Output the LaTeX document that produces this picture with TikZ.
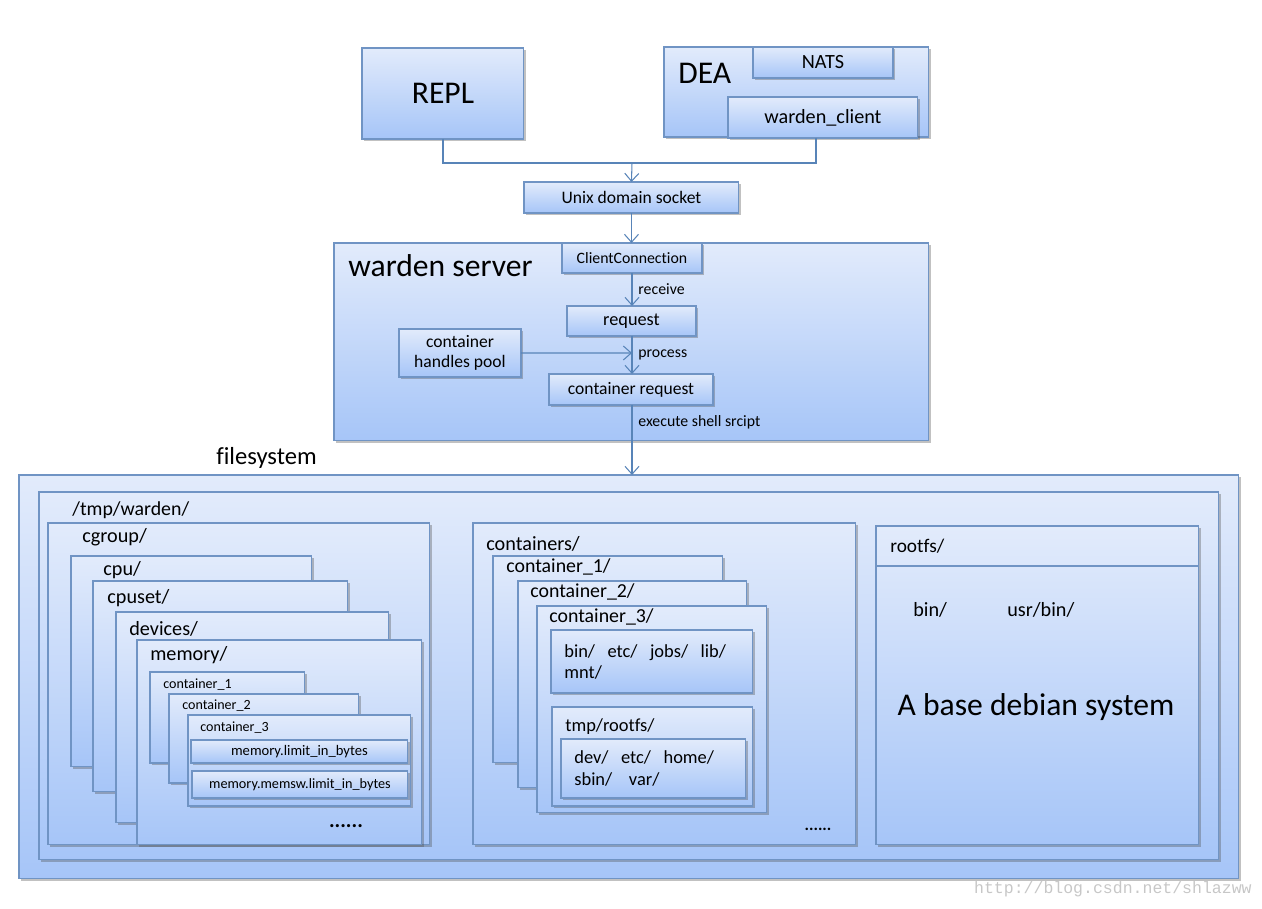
\documentclass[tikz,border=0pt]{standalone}
\usepackage{fontspec}
\setmainfont{Carlito}[Ligatures=NoCommon]
\newfontfamily\wmfont{Liberation Mono}
\usetikzlibrary{arrows.meta,shadows}
\definecolor{boxtop}{RGB}{226,235,251}
\definecolor{boxbot}{RGB}{166,197,248}
\definecolor{boxline}{RGB}{112,148,196}
\definecolor{linkline}{RGB}{88,132,184}
\tikzset{
  box/.style={draw=boxline, line width=0.6pt, top color=boxtop, bottom color=boxbot,
    drop shadow={shadow xshift=1.2pt, shadow yshift=-1.4pt, opacity=0.35, fill=black!70},
    inner sep=0pt, outer sep=0pt, anchor=north west},
  link/.style={draw=linkline, line width=0.6pt},
  arr/.style={link, -{Straight Barb[length=4.5pt,width=8pt]}},
  lbl/.style={anchor=base west, inner sep=0pt},
}
\begin{document}
\begin{tikzpicture}[x=0.02cm, y=-0.02cm]
    \useasboundingbox (0,0) rectangle (1262,909);
    % top: clients
    \node [box, minimum width=3.24cm, minimum height=1.82cm] (repl) at (362,48) {};
    \node [font=\fontsize{18}{20}\selectfont] (repltxt) at (repl.center) {REPL};
    \node [box, minimum width=5.30cm, minimum height=1.80cm] (dea) at (664,47) {};
    \node [lbl, font=\fontsize{18}{20}\selectfont] (deatxt) at (678,84) {DEA};
    \node [box, minimum width=2.80cm, minimum height=0.62cm, font=\fontsize{11.5}{13}\selectfont] (nats) at (753,47) {NATS};
    \node [box, minimum width=3.80cm, minimum height=0.82cm, font=\fontsize{11.5}{13}\selectfont] (wclient) at (728,97) {warden\_client};
    \node [box, minimum width=4.30cm, minimum height=0.62cm, font=\fontsize{10}{12}\selectfont] (socket) at (524,182) {Unix domain socket};
    \coordinate (join) at (632,163);
    \draw [link] (repl.south) |- (join);
    \draw [link] (wclient.south -| 816,0) |- (join);
    \draw [arr] (join) -- (socket.north);
    % warden server
    \node [box, minimum width=11.90cm, minimum height=3.96cm] (server) at (334,243) {};
    \node [lbl, font=\fontsize{18}{20}\selectfont] (servertxt) at (348,276) {warden server};
    \node [box, minimum width=2.80cm, minimum height=0.60cm, font=\fontsize{9}{11}\selectfont] (cconn) at (562,243) {ClientConnection};
    \draw [arr] (socket.south) -- (cconn.north -| socket.south);
    \node [box, minimum width=2.58cm, minimum height=0.60cm, font=\fontsize{10.4}{12}\selectfont] (request) at (567,306) {request};
    \node [box, minimum width=2.44cm, minimum height=0.96cm, align=center, font=\fontsize{10}{11.3}\selectfont] (pool) at (399,329) {container\\handles pool};
    \node [box, minimum width=3.28cm, minimum height=0.62cm, font=\fontsize{10}{12}\selectfont] (creq) at (549,374) {container request};
    \draw [arr] (cconn.south -| 632,0) -- (request.north -| 632,0) node [pos=0.5, right, font=\fontsize{9}{11}\selectfont] {receive};
    \draw [arr] (request.south -| 632,0) -- (creq.north -| 632,0) node [pos=0.5, right, font=\fontsize{9}{11}\selectfont] {process};
    \draw [arr] (pool.east) -- (632,353);
    % filesystem
    \node [lbl, font=\fontsize{14}{16}\selectfont] (fstxt) at (216,464) {filesystem};
    \node [box, minimum width=24.40cm, minimum height=8.08cm] (fs) at (19,475) {};
    \draw [arr] (creq.south -| 632,0) -- (fs.north -| 632,0) node [pos=0.25, right, font=\fontsize{9}{11}\selectfont] {execute shell srcipt};
    \node [box, minimum width=23.60cm, minimum height=7.36cm] (tmpw) at (39,492) {};
    \node [lbl, font=\fontsize{11.3}{13}\selectfont] at (72,515) {/tmp/warden/};
    % cgroup
    \node [box, minimum width=7.64cm, minimum height=6.44cm] (cgroup) at (48,523) {};
    \node [lbl, font=\fontsize{11.5}{13}\selectfont] at (82,542) {cgroup/};
    \node [box, minimum width=4.82cm, minimum height=4.22cm] (cpu) at (71,556) {};
    \node [lbl, font=\fontsize{11.5}{13}\selectfont] at (103,575) {cpu/};
    \node [box, minimum width=5.10cm, minimum height=4.22cm] (cpuset) at (93,581) {};
    \node [lbl, font=\fontsize{11.5}{13}\selectfont] at (107,603) {cpuset/};
    \node [box, minimum width=5.46cm, minimum height=4.22cm] (devices) at (116,612) {};
    \node [lbl, font=\fontsize{11.5}{13}\selectfont] at (129,635) {devices/};
    \node [box, minimum width=5.70cm, minimum height=4.10cm] (memory) at (137,640) {};
    \node [lbl, font=\fontsize{11.5}{13}\selectfont] at (150,660) {memory/};
    \node [box, minimum width=3.10cm, minimum height=1.82cm] (mcont1) at (150,672) {};
    \node [lbl, font=\fontsize{8}{10}\selectfont] at (163,688) {container\_1};
    \node [box, minimum width=3.80cm, minimum height=1.78cm] (mcont2) at (169,694) {};
    \node [lbl, font=\fontsize{8}{10}\selectfont] at (182,709) {container\_2};
    \node [box, minimum width=4.46cm, minimum height=1.82cm] (mcont3) at (188,715) {};
    \node [lbl, font=\fontsize{8}{10}\selectfont] at (200,731) {container\_3};
    \node [box, minimum width=4.34cm, minimum height=0.46cm, font=\fontsize{8.3}{10}\selectfont] (mlimit) at (191,740) {memory.limit\_in\_bytes};
    \node [box, minimum width=4.32cm, minimum height=0.54cm, font=\fontsize{8.1}{10}\selectfont] (mmemsw) at (192,771) {memory.memsw.limit\_in\_bytes};
    \node [font=\bfseries\fontsize{12}{13}\selectfont] (mdots) at (346,826) {......};
    % containers
    \node [box, minimum width=7.66cm, minimum height=6.44cm] (conts) at (473,523) {};
    \node [lbl, font=\fontsize{11.5}{13}\selectfont] at (486,550) {containers/};
    \node [box, minimum width=4.60cm, minimum height=4.14cm] (cont1) at (493,556) {};
    \node [lbl, font=\fontsize{11.3}{13}\selectfont] at (506,572) {container\_1/};
    \node [box, minimum width=4.58cm, minimum height=4.14cm] (cont2) at (518,581) {};
    \node [lbl, font=\fontsize{11.3}{13}\selectfont] at (530,597) {container\_2/};
    \node [box, minimum width=4.60cm, minimum height=4.14cm] (cont3) at (537,606) {};
    \node [lbl, font=\fontsize{11.3}{13}\selectfont] at (549,622) {container\_3/};
    \node [box, minimum width=4.04cm, minimum height=1.26cm] (cdirs) at (551,630) {};
    \node [lbl, font=\fontsize{10.5}{12}\selectfont] at (564,657) {bin/\ \ \ etc/\ \ \ jobs/\ \ \ lib/};
    \node [lbl, font=\fontsize{10.5}{12}\selectfont] at (564,678) {mnt/};
    \node [box, minimum width=4.02cm, minimum height=1.98cm] (ctmp) at (552,707) {};
    \node [lbl, font=\fontsize{10.5}{12}\selectfont] at (565,731) {tmp/rootfs/};
    \node [box, minimum width=3.70cm, minimum height=1.18cm] (ctmpdirs) at (561,739) {};
    \node [lbl, font=\fontsize{10.5}{12}\selectfont] at (574,763) {dev/\ \ \ etc/\ \ \ home/};
    \node [lbl, font=\fontsize{10.5}{12}\selectfont] at (574,785) {sbin/\ \ \ \ var/};
    \node [font=\bfseries\fontsize{9.5}{10}\selectfont] (cdots) at (818,829) {......};
    % rootfs
    \node [box, minimum width=6.46cm, minimum height=6.38cm] (rootfs) at (876,526) {};
    \draw [draw=boxline, line width=0.6pt] (rootfs.west |- 0,566) -- (rootfs.east |- 0,566);
    \node [lbl, font=\fontsize{11}{13}\selectfont] at (890,552) {rootfs/};
    \node [lbl, font=\fontsize{11.5}{13}\selectfont] at (913,616) {bin/};
    \node [lbl, font=\fontsize{11.5}{13}\selectfont] at (1007,616) {usr/bin/};
    \node [anchor=base, inner sep=0pt, font=\fontsize{18}{20}\selectfont] (debian) at (1036,715) {A base debian system};
    % watermark
    \node [anchor=base east, inner sep=0pt, text=black!22, font=\wmfont\fontsize{9.4}{11}\selectfont] (wmark) at (1252,893) {http://blog.csdn.net/shlazww};
\end{tikzpicture}
\end{document}
